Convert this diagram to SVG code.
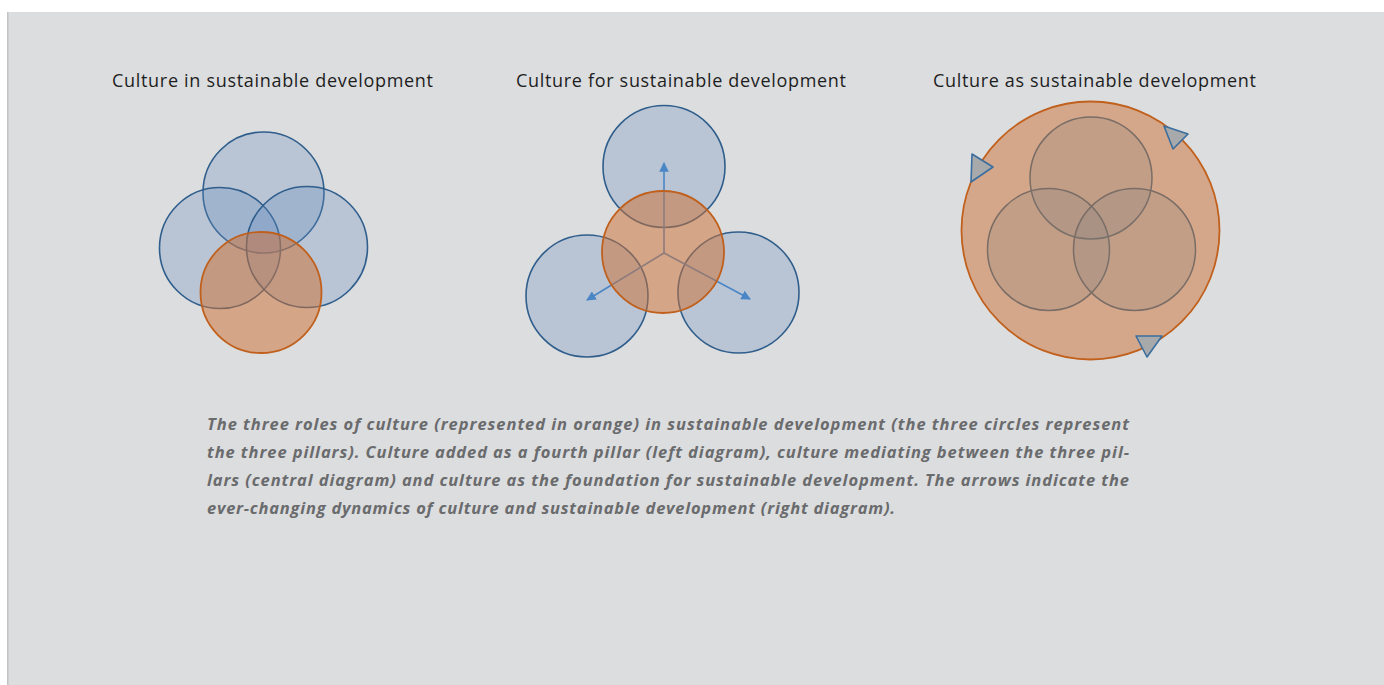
<svg xmlns="http://www.w3.org/2000/svg" width="1384" height="685" viewBox="0 0 1384 685">
<style>
.title{font-family:"Open Sans","Liberation Sans",sans-serif;font-size:18px;fill:#1e1e1e}
.cap{font-family:"Open Sans","Liberation Sans",sans-serif;font-size:16.5px;font-style:italic;font-weight:700;fill:#6a6b6d}
.blue{fill:#6a8fbf;fill-opacity:0.3;stroke:#2f5e8c;stroke-width:1.6}
.orange{fill:#ce7135;fill-opacity:0.52;stroke:#c0601c;stroke-width:1.8}
.big{fill:#d5a78a;stroke:#c0601c;stroke-width:1.8}
.inner{fill:#7f7f7f;fill-opacity:0.2;stroke:#7a6d66;stroke-width:1.5}
.arr{stroke:#4a86c5;stroke-width:1.6;fill:none;marker-end:url(#ah)}
.tri{fill:#a7a9ab;stroke:#3b6e9e;stroke-width:1.6;stroke-linejoin:round}
</style>
<defs>
<marker id="ah" viewBox="0 0 10 10" refX="9" refY="5" markerWidth="6" markerHeight="6" orient="auto" markerUnits="strokeWidth">
<path d="M0,0 L10,5 L0,10 z" fill="#4a86c5"/>
</marker>
</defs>
<rect x="0" y="0" width="1384" height="685" fill="#ffffff"/>
<rect x="7" y="12" width="1377" height="673" fill="#dcdddf"/>
<rect x="7" y="12" width="1.5" height="673" fill="#c2c3c5"/>

<g id="title-in"><text class="title" x="112" y="87" textLength="321">Culture in sustainable development</text></g>
<g id="title-for"><text class="title" x="516" y="87" textLength="330">Culture for sustainable development</text></g>
<g id="title-as"><text class="title" x="933" y="87" textLength="323">Culture as sustainable development</text></g>

<g id="diagram-in">
<circle class="blue" cx="263.5" cy="192.5" r="60.5"/>
<circle class="blue" cx="220" cy="248" r="60.5"/>
<circle class="blue" cx="307" cy="247" r="60.5"/>
<circle class="orange" cx="261" cy="292.5" r="60.5"/>
</g>

<g id="diagram-for">
<circle class="blue" cx="664" cy="166.5" r="61"/>
<circle class="blue" cx="587" cy="296" r="61"/>
<circle class="blue" cx="738.5" cy="292.5" r="60.5"/>
<g id="connectors">
<line class="arr" x1="664" y1="253" x2="664" y2="163"/>
<line class="arr" x1="664" y1="253" x2="587" y2="300"/>
<line class="arr" x1="664" y1="253" x2="750" y2="299"/>
</g>
<circle class="orange" cx="663" cy="252" r="61"/>
</g>

<g id="diagram-as">
<circle class="big" cx="1090.5" cy="230.5" r="129"/>
<circle class="inner" cx="1091" cy="178" r="61"/>
<circle class="inner" cx="1048.5" cy="249.5" r="61"/>
<circle class="inner" cx="1134.5" cy="249.5" r="61"/>
<polygon class="tri" points="972,154 993,167 971,182"/>
<polygon class="tri" points="1164,126 1188,134 1173,149"/>
<polygon class="tri" points="1136,336 1162,336 1147,357"/>
</g>

<g id="caption">
<text class="cap" x="207" y="430" textLength="922">The three roles of culture (represented in orange) in sustainable development (the three circles represent</text>
<text class="cap" x="207" y="458" textLength="922">the three pillars). Culture added as a fourth pillar (left diagram), culture mediating between the three pil-</text>
<text class="cap" x="207" y="486" textLength="922">lars (central diagram) and culture as the foundation for sustainable development. The arrows indicate the</text>
<text class="cap" x="207" y="514" textLength="688">ever-changing dynamics of culture and sustainable development (right diagram).</text>
</g>
</svg>
